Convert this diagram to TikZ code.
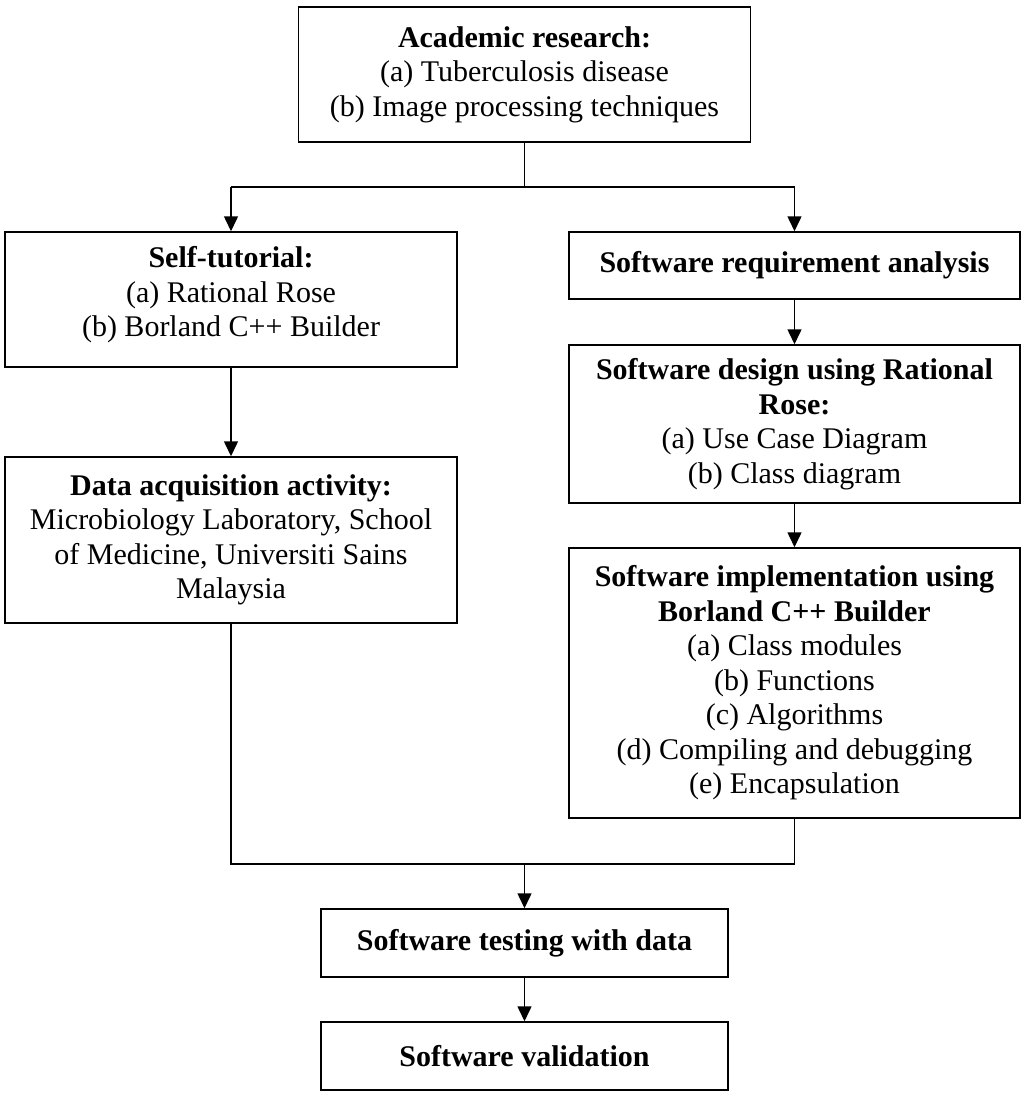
\documentclass[tikz,border=0pt]{standalone}
\usepackage{fontspec}
\setmainfont{Liberation Serif}
\usetikzlibrary{arrows.meta}

\begin{document}
\begin{tikzpicture}[
  x=0.5pt, y=-0.5pt,
  box/.style={draw=black, line width=0.75pt, rectangle, align=center,
    inner sep=0pt, font=\fontsize{15pt}{17.25pt}\selectfont},
  flow/.style={draw=black, line width=0.75pt},
  arr/.style={flow, -{Triangle[length=7.5pt,width=7pt]}}
]
% page frame
\useasboundingbox (0,0) rectangle (1021,1094);

% left column
\node[box, minimum width=226pt, minimum height=67.5pt] (acad) at (524.5,74.5)
  {\textbf{Academic research:}\\(a) Tuberculosis disease\\(b) Image processing techniques};
\node[box, minimum width=226pt, minimum height=67.5pt] (self) at (231,299.5) {};
\node[align=center, inner sep=0pt, font=\fontsize{15pt}{17.25pt}\selectfont] (selftext) at (231,295)
  {\textbf{Self-tutorial:}\\(a) Rational Rose\\(b) Borland C++ Builder};
\node[box, minimum width=226pt, minimum height=83pt] (data) at (231,540)
  {\textbf{Data acquisition activity:}\\Microbiology Laboratory, School\\of Medicine, Universiti Sains\\Malaysia};

% right column
\node[box, minimum width=225.5pt, minimum height=33.5pt] (req) at (794.5,265.5)
  {\textbf{Software requirement analysis}};
\node[box, minimum width=225.5pt, minimum height=79pt] (design) at (794.5,424)
  {\textbf{Software design using Rational}\\\textbf{Rose:}\\(a) Use Case Diagram\\(b) Class diagram};
\node[box, minimum width=225.5pt, minimum height=135pt] (impl) at (794.5,683)
  {\textbf{Software implementation using}\\\textbf{Borland C++ Builder}\\(a) Class modules\\(b) Functions\\(c) Algorithms\\(d) Compiling and debugging\\(e) Encapsulation};

% bottom
\node[box, minimum width=203.5pt, minimum height=34pt] (test) at (524.5,943)
  {\textbf{Software testing with data}};
\node[box, minimum width=203.5pt, minimum height=34pt] (valid) at (524.5,1056)
  {\textbf{Software validation}};

% branch and merge points
\coordinate (split) at (524.5,187);
\coordinate (merge) at (524.5,864);

% connectors
\draw[flow] (acad.south) -- (split);
\draw[flow] (self.north |- split) -- (req.north |- split);
\draw[arr] (self.north |- split) -- (self.north);
\draw[arr] (req.north |- split) -- (req.north);
\draw[arr] (self) -- (data);
\draw[arr] (req) -- (design);
\draw[arr] (design) -- (impl);
\draw[flow] (data.south) -- (data.south |- merge) -- (impl.south |- merge) -- (impl.south);
\draw[arr] (merge) -- (test.north);
\draw[arr] (test) -- (valid);
\end{tikzpicture}
\end{document}
